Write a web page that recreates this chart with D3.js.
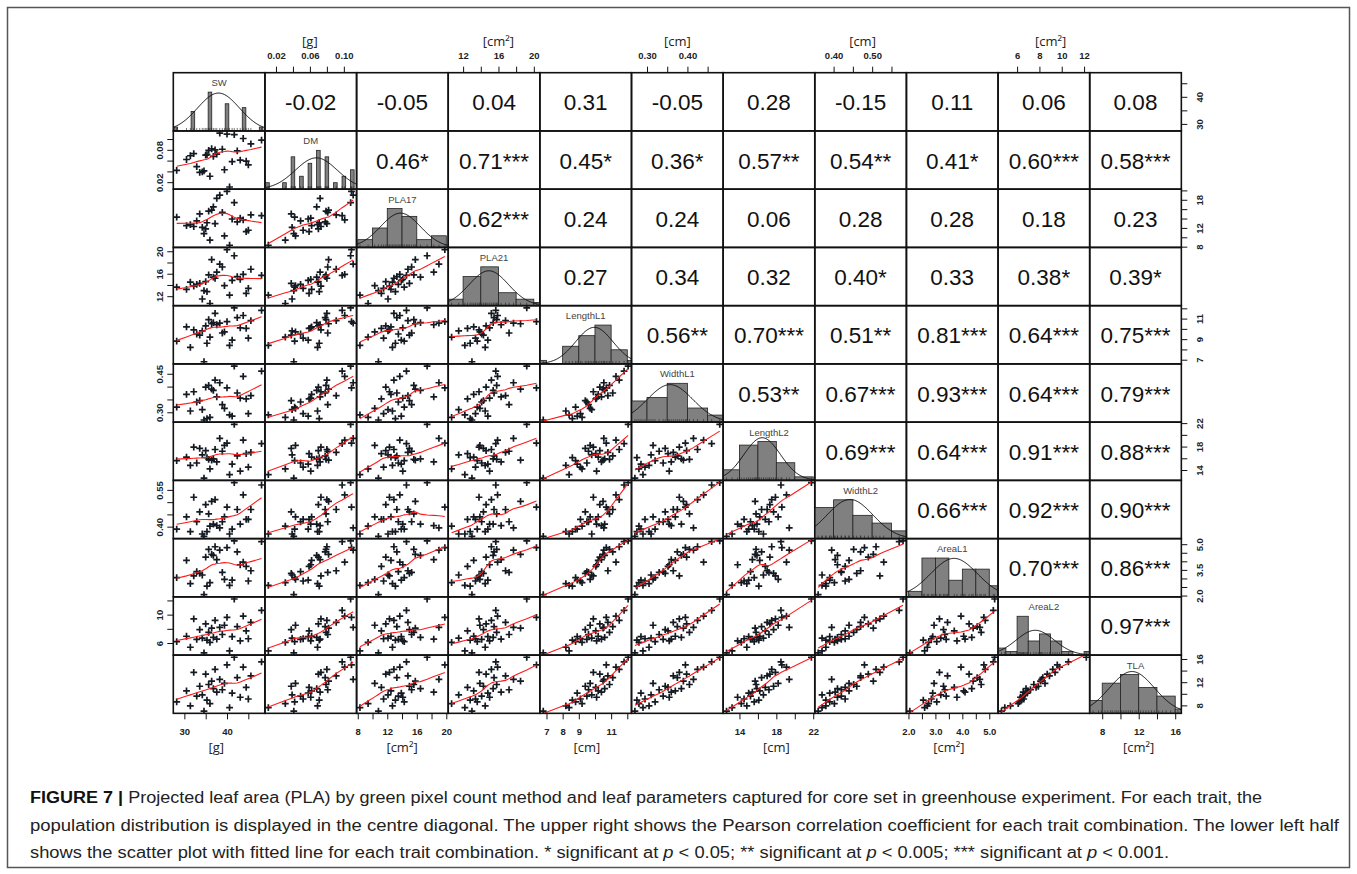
<!DOCTYPE html>
<html>
<head>
<meta charset="utf-8">
<script src="https://cdn.jsdelivr.net/npm/d3@7"></script>
<style>
  body { margin: 0; background: #fff; }
  svg { display: block; }
</style>
</head>
<body>
<svg id="chart" width="1357" height="874"></svg>
<script>
// ---- Trait names and units ----
const traits = ["SW", "DM", "PLA17", "PLA21", "LengthL1", "WidthL1", "LengthL2", "WidthL2", "AreaL1", "AreaL2", "TLA"];
const units = ["[g]", "[g]", "[cm²]", "[cm²]", "[cm]", "[cm]", "[cm]", "[cm]", "[cm²]", "[cm²]", "[cm²]"];

// ---- Per-plant measurements (30 accessions, same order in every array) ----
const sw = [34.6, 40.6, 31.4, 36.0, 28.2, 43.1, 35.3, 32.9, 37.6, 45.0, 34.2, 36.8, 41.2, 30.5, 38.9,
            35.7, 44.5, 33.6, 36.4, 42.4, 39.4, 35.0, 45.6, 37.2, 32.2, 40.0, 43.8, 38.3, 48.1, 41.7];
const dm = [0.041, 0.011, 0.069, 0.031, 0.042, 0.061, 0.071, 0.049, 0.072, 0.052, 0.039, 0.068, 0.058, 0.062, 0.081,
            0.079, 0.059, 0.038, 0.082, 0.078, 0.043, 0.070, 0.091, 0.080, 0.073, 0.109, 0.101, 0.111, 0.098, 0.108];
const pla17 = [10.8, 8.3, 12.7, 9.4, 14.3, 14.1, 13.1, 13.5, 18.3, 11.5, 12.1, 16.5, 13.9, 12.5, 15.3,
               15.6, 11.2, 15.0, 15.8, 13.3, 10.3, 11.8, 14.8, 12.9, 12.3, 19.8, 13.7, 19.0, 14.6, 17.4];
const pla21 = [13.0, 12.2, 14.5, 10.7, 13.6, 15.0, 12.8, 14.1, 16.3, 13.4, 11.5, 15.4, 14.8, 13.2, 17.2,
               15.8, 12.5, 14.3, 18.5, 15.5, 13.9, 14.6, 16.8, 15.2, 13.8, 20.3, 15.9, 17.7, 15.7, 19.2];
const lengthL1 = [6.8, 8.4, 8.2, 9.2, 8.8, 10.1, 8.6, 9.5, 10.4, 9.1, 9.8, 10.6, 8.9, 10.2, 9.6,
                  10.9, 10.05, 9.4, 10.5, 11.1, 9.7, 10.3, 10.8, 11.5, 9.9, 10.7, 11.3, 10.55, 11.8, 12.05];
const widthL1 = [0.27, 0.29, 0.305, 0.28, 0.32, 0.355, 0.275, 0.34, 0.36, 0.295, 0.31, 0.385, 0.285, 0.37, 0.33,
                 0.405, 0.352, 0.345, 0.39, 0.375, 0.315, 0.398, 0.365, 0.425, 0.38, 0.395, 0.44, 0.415, 0.46, 0.48];
const lengthL2 = [12.6, 13.2, 14.8, 14.2, 15.6, 13.8, 16.1, 15.2, 15.4, 14.5, 16.6, 15.9, 15.0, 16.2, 17.2,
                  15.8, 16.8, 17.7, 15.7, 16.4, 18.2, 17.3, 17.0, 17.5, 17.9, 18.6, 19.1, 19.4, 18.5, 21.8];
const widthL2 = [0.36, 0.37, 0.38, 0.402, 0.39, 0.41, 0.38, 0.42, 0.404, 0.43, 0.37, 0.41, 0.39, 0.44, 0.42,
                 0.452, 0.43, 0.46, 0.503, 0.47, 0.44, 0.49, 0.47, 0.51, 0.52, 0.48, 0.53, 0.395, 0.57, 0.58];
const areaL1 = [2.05, 2.6, 2.7, 2.75, 3.05, 3.8, 2.55, 3.4, 4.1, 2.85, 3.2, 4.35, 2.9, 4.05, 3.35,
                4.7, 3.7, 3.3, 4.4, 4.55, 2.95, 4.25, 3.45, 4.85, 3.15, 4.8, 3.95, 4.65, 5.15, 5.2];
const areaL2 = [4.6, 4.9, 5.4, 6.1, 6.2, 6.3, 6.4, 6.5, 6.55, 6.6, 6.7, 6.8, 6.9, 6.95, 7.2,
                7.5, 7.7, 7.9, 8.1, 8.3, 8.5, 8.7, 8.9, 9.2, 9.4, 9.6, 9.8, 8.2, 10.6, 12.2];
const tla = [7.0, 7.6, 7.9, 8.3, 8.6, 9.4, 8.9, 9.6, 10.3, 9.1, 9.8, 10.9, 10.1, 10.5, 10.7,
             11.6, 11.1, 11.3, 12.2, 12.8, 11.8, 13.4, 13.1, 14.2, 13.7, 15.0, 14.6, 12.5, 15.5, 16.3];

const series = [sw, dm, pla17, pla21, lengthL1, widthL1, lengthL2, widthL2, areaL1, areaL2, tla];

// ---- Histogram bins (first break, bin width, number of bins) ----
const binStart = [26, 0.005, 8, 10, 6, 0.25, 12, 0.35, 2.0, 4, 6];
const binWidth = [4, 0.01, 2, 2, 1, 0.05, 2, 0.05, 0.5, 1, 2];
const binCount = [6, 11, 6, 6, 7, 5, 5, 5, 7, 9, 6];
const spikeHist = [true, true, false, false, false, false, false, false, false, false, false];

// ---- Pearson correlations shown in the upper triangle (row trait vs. later traits) ----
const corrLabels = [
  ["-0.02", "-0.05", "0.04", "0.31", "-0.05", "0.28", "-0.15", "0.11", "0.06", "0.08"],
  ["0.46*", "0.71***", "0.45*", "0.36*", "0.57**", "0.54**", "0.41*", "0.60***", "0.58***"],
  ["0.62***", "0.24", "0.24", "0.06", "0.28", "0.28", "0.18", "0.23"],
  ["0.27", "0.34", "0.32", "0.40*", "0.33", "0.38*", "0.39*"],
  ["0.56**", "0.70***", "0.51**", "0.81***", "0.64***", "0.75***"],
  ["0.53**", "0.67***", "0.93***", "0.64***", "0.79***"],
  ["0.69***", "0.64***", "0.91***", "0.88***"],
  ["0.66***", "0.92***", "0.90***"],
  ["0.70***", "0.86***"],
  ["0.97***"]
];

// ---- Axis ticks per trait and the tick labels printed on each side ----
const tickValues = [
  [30, 35, 40, 45],
  [0.02, 0.04, 0.06, 0.08, 0.10],
  [8, 10, 12, 14, 16, 18, 20],
  [12, 14, 16, 18, 20],
  [7, 8, 9, 10, 11, 12],
  [0.30, 0.35, 0.40, 0.45],
  [14, 16, 18, 20, 22],
  [0.40, 0.45, 0.50, 0.55],
  [2.0, 2.5, 3.0, 3.5, 4.0, 4.5, 5.0],
  [6, 8, 10, 12],
  [8, 10, 12, 14, 16]
];
const topLabels    = { 1: ["0.02", "0.06", "0.10"], 3: ["12", "16", "20"], 5: ["0.30", "0.40"], 7: ["0.40", "0.50"], 9: ["6", "8", "10", "12"] };
const bottomLabels = { 0: ["30", "40"], 2: ["8", "12", "16", "20"], 4: ["7", "8", "9", "11"], 6: ["14", "18", "22"], 8: ["2.0", "3.0", "4.0", "5.0"], 10: ["8", "12", "16"] };
const leftLabels   = { 1: ["0.02", "0.08"], 3: ["12", "16", "20"], 5: ["0.30", "0.45"], 7: ["0.40", "0.55"], 9: ["6", "10"] };
const rightLabels  = { 0: ["30", "40"], 2: ["8", "12", "18"], 4: ["7", "9", "11"], 6: ["14", "18", "22"], 8: ["2.0", "3.5", "5.0"], 10: ["8", "12", "16"] };

const captionLines = [
  [["FIGURE 7 | ", true], ["Projected leaf area (PLA) by green pixel count method and leaf parameters captured for core set in greenhouse experiment. For each trait, the", false]],
  [["population distribution is displayed in the centre diagonal. The upper right shows the Pearson correlation coefficient for each trait combination. The lower left half", false]],
  [["shows the scatter plot with fitted line for each trait combination. * significant at ", false], ["p", "i"], [" < 0.05; ** significant at ", false], ["p", "i"], [" < 0.005; *** significant at ", false], ["p", "i"], [" < 0.001.", false]]
];

// ---- Layout ----
const FONT = "'Liberation Sans', Arial, Helvetica, sans-serif";
const X0 = 173.3, Y0 = 72.7, CW = 91.64, CH = 58.24;
const N = traits.length;

const svg = d3.select("#chart");
svg.append("rect").attr("x", 7.5).attr("y", 7.5).attr("width", 1342).attr("height", 860)
  .attr("fill", "none").attr("stroke", "#555").attr("stroke-width", 1.5);

// R-style scale domains: data range widened by 4% on both sides
const xs = series.map(v => {
  const [lo, hi] = d3.extent(v), pad = (hi - lo) * 0.04;
  return d3.scaleLinear().domain([lo - pad, hi + pad]).range([0, CW]);
});
const ys = series.map(v => {
  const [lo, hi] = d3.extent(v), pad = (hi - lo) * 0.04;
  return d3.scaleLinear().domain([lo - pad, hi + pad]).range([CH, 0]);
});

// Locally weighted scatterplot smoothing (Cleveland's lowess, f = 2/3, 3 robustness passes)
function lowess(xIn, yIn, f = 2 / 3, iter = 3) {
  const n = xIn.length;
  const order = d3.range(n).sort((a, b) => xIn[a] - xIn[b]);
  const x = order.map(i => xIn[i]), y = order.map(i => yIn[i]);
  const ns = Math.max(2, Math.min(n, Math.floor(f * n + 1e-7)));
  const span = x[n - 1] - x[0];
  let rw = new Array(n).fill(1);
  const fit = new Array(n).fill(0);
  for (let it = 0; it <= iter; it++) {
    let nleft = 0, nright = ns - 1;
    for (let i = 0; i < n; i++) {
      const xi = x[i];
      while (nright < n - 1 && xi - x[nleft] > x[nright + 1] - xi) { nleft++; nright++; }
      const h = Math.max(xi - x[nleft], x[nright] - xi);
      const h9 = 0.999 * h, h1 = 0.001 * h;
      const w = new Array(n).fill(0);
      let a = 0, nrt = nleft;
      for (let j = nleft; j < n; j++) {
        const r = Math.abs(x[j] - xi);
        if (r <= h9) {
          w[j] = (r <= h1 ? 1 : Math.pow(1 - Math.pow(r / h, 3), 3)) * rw[j];
          a += w[j];
          nrt = j;
        } else if (x[j] > xi) break;
      }
      if (a <= 0) { fit[i] = y[i]; continue; }
      for (let j = nleft; j <= nrt; j++) w[j] /= a;
      if (h > 0) {
        let xm = 0;
        for (let j = nleft; j <= nrt; j++) xm += w[j] * x[j];
        let b = xi - xm, c = 0;
        for (let j = nleft; j <= nrt; j++) c += w[j] * (x[j] - xm) ** 2;
        if (Math.sqrt(c) > 0.001 * span) {
          b /= c;
          for (let j = nleft; j <= nrt; j++) w[j] *= b * (x[j] - xm) + 1;
        }
      }
      let s = 0;
      for (let j = nleft; j <= nrt; j++) s += w[j] * y[j];
      fit[i] = s;
    }
    if (it === iter) break;
    const res = y.map((v, i) => v - fit[i]);
    const cmad = 6 * d3.median(res.map(Math.abs));
    if (cmad < 1e-9) break;
    const c9 = 0.999 * cmad, c1 = 0.001 * cmad;
    rw = res.map(r => {
      const u = Math.abs(r);
      return u <= c1 ? 1 : (u > c9 ? 0 : (1 - (u / cmad) ** 2) ** 2);
    });
  }
  return x.map((v, i) => [v, fit[i]]);
}

const defs = svg.append("defs");
defs.append("clipPath").attr("id", "cellclip")
  .append("rect").attr("x", 0).attr("y", 0).attr("width", CW).attr("height", CH);

const plusPath = "M-3.4,0H3.4M0,-3.4V3.4";

for (let i = 0; i < N; i++) {
  for (let j = 0; j < N; j++) {
    const cell = svg.append("g").attr("transform", `translate(${X0 + j * CW},${Y0 + i * CH})`);
    const inner = cell.append("g").attr("clip-path", "url(#cellclip)");

    if (i === j) {
      // Diagonal: histogram (density scale), normal curve and rug
      const v = series[i];
      const thresholds = d3.range(binCount[i] + 1).map(k => binStart[i] + k * binWidth[i]);
      const bins = d3.bin().domain([thresholds[0], thresholds[thresholds.length - 1]])
        .thresholds(thresholds.slice(1, -1))(v);
      const dens = bins.map(b => b.length / (v.length * binWidth[i]));
      const yH = d3.scaleLinear().domain([0, d3.max(dens) * 1.5]).range([CH, 0]);
      const x = xs[i];
      inner.selectAll("rect.bar").data(bins).join("rect")
        .attr("class", "bar")
        .attr("x", (b) => spikeHist[i] ? x((b.x0 + b.x1) / 2) - 1.8 : x(b.x0))
        .attr("width", (b) => spikeHist[i] ? 3.6 : x(b.x1) - x(b.x0))
        .attr("y", (b, k) => yH(dens[k]))
        .attr("height", (b, k) => CH - yH(dens[k]))
        .attr("fill", "#808080").attr("stroke", "#222").attr("stroke-width", 0.8);
      const mean = d3.mean(v), sd = d3.deviation(v);
      const [d0, d1] = x.domain();
      const curve = d3.range(121).map(k => {
        const t = d0 + (d1 - d0) * k / 120;
        return [t, Math.exp(-((t - mean) ** 2) / (2 * sd * sd)) / (sd * Math.sqrt(2 * Math.PI))];
      });
      inner.append("path").datum(curve)
        .attr("d", d3.line().x(d => x(d[0])).y(d => yH(d[1])).curve(d3.curveBasis))
        .attr("fill", "none").attr("stroke", "#111").attr("stroke-width", 1);
      inner.selectAll("line.rug").data(v).join("line")
        .attr("class", "rug")
        .attr("x1", d => x(d)).attr("x2", d => x(d))
        .attr("y1", CH).attr("y2", CH - 3)
        .attr("stroke", "#222").attr("stroke-width", 0.6);
      cell.append("text").attr("x", CW / 2).attr("y", 13.5)
        .attr("text-anchor", "middle").attr("font-family", FONT).attr("font-size", 9.5)
        .attr("fill", "#444").text(traits[i]);
    } else if (i > j) {
      // Lower triangle: scatter with lowess smooth
      const xv = series[j], yv = series[i];
      const pts = xv.map((d, k) => [d, yv[k]]);
      inner.selectAll("path.pt").data(pts).join("path")
        .attr("class", "pt")
        .attr("transform", d => `translate(${xs[j](d[0])},${ys[i](d[1])})`)
        .attr("d", plusPath)
        .attr("stroke", "#141a22").attr("stroke-width", 1.7);
      const sm = lowess(xv, yv);
      inner.append("path").datum(sm)
        .attr("d", d3.line().x(d => xs[j](d[0])).y(d => ys[i](d[1])))
        .attr("fill", "none").attr("stroke", "#ff1a1a").attr("stroke-width", 1.1);
    } else {
      // Upper triangle: correlation coefficient with significance stars
      cell.append("text").attr("x", CW / 2).attr("y", CH / 2 + 1)
        .attr("text-anchor", "middle").attr("dominant-baseline", "central")
        .attr("font-family", FONT).attr("font-size", 22.5).attr("fill", "#111")
        .text(corrLabels[i][j - i - 1]);
    }

    cell.append("rect").attr("width", CW).attr("height", CH)
      .attr("fill", "none").attr("stroke", "#111").attr("stroke-width", 1.6);
  }
}

// ---- Marginal axes ----
function styleAxis(g) {
  g.select(".domain").remove();
  g.selectAll(".tick line").attr("stroke", "#111").attr("stroke-width", 1);
  g.selectAll(".tick text").attr("font-family", FONT).attr("font-size", 9.5)
    .attr("font-weight", "bold").attr("fill", "#222");
}
const fmt = labels => v => {
  const hit = labels.find(l => Math.abs(+l - v) < 1e-9);
  return hit === undefined ? "" : hit;
};
function unitText(x, y, txt) {
  svg.append("text").attr("x", x).attr("y", y).attr("text-anchor", "middle")
    .attr("font-family", "'Open Sans', " + FONT).attr("font-size", 13).attr("fill", "#222").text(txt);
}

Object.keys(topLabels).forEach(k => {
  const j = +k;
  const g = svg.append("g").attr("transform", `translate(${X0 + j * CW},${Y0})`)
    .call(d3.axisTop(xs[j]).tickValues(tickValues[j]).tickSize(6).tickPadding(8).tickFormat(fmt(topLabels[k])));
  styleAxis(g);
  const t = tickValues[j];
  unitText(X0 + j * CW + (xs[j](t[0]) + xs[j](t[t.length - 1])) / 2, 45.5, units[j]);
});
Object.keys(bottomLabels).forEach(k => {
  const j = +k;
  const g = svg.append("g").attr("transform", `translate(${X0 + j * CW},${Y0 + N * CH})`)
    .call(d3.axisBottom(xs[j]).tickValues(tickValues[j]).tickSize(6).tickPadding(9).tickFormat(fmt(bottomLabels[k])));
  styleAxis(g);
  const t = tickValues[j];
  unitText(X0 + j * CW + (xs[j](t[0]) + xs[j](t[t.length - 1])) / 2, 751.5, units[j]);
});
Object.keys(leftLabels).forEach(k => {
  const i = +k;
  const g = svg.append("g").attr("transform", `translate(${X0},${Y0 + i * CH})`)
    .call(d3.axisLeft(ys[i]).tickValues(tickValues[i]).tickSize(6).tickFormat(fmt(leftLabels[k])));
  styleAxis(g);
  g.selectAll(".tick text").attr("x", null).attr("dy", null)
    .attr("text-anchor", "middle").attr("transform", "translate(-10,0) rotate(-90)");
});
Object.keys(rightLabels).forEach(k => {
  const i = +k;
  const g = svg.append("g").attr("transform", `translate(${X0 + N * CW},${Y0 + i * CH})`)
    .call(d3.axisRight(ys[i]).tickValues(tickValues[i]).tickSize(6).tickFormat(fmt(rightLabels[k])));
  styleAxis(g);
  g.selectAll(".tick text").attr("x", null).attr("dy", null)
    .attr("text-anchor", "middle").attr("transform", "translate(22,0) rotate(-90)");
});

// ---- Caption ----
const captionX = 30, captionY = [803, 831, 858], captionW = [1232, 1309, 1139];
captionLines.forEach((parts, li) => {
  const t = svg.append("text").attr("x", captionX).attr("y", captionY[li])
    .attr("font-family", FONT).attr("font-size", 16).attr("fill", "#222");
  parts.forEach(([s, style]) => {
    const sp = t.append("tspan").text(s);
    if (style === true) sp.attr("font-weight", "bold").attr("fill", "#111");
    if (style === "i") sp.attr("font-style", "italic");
  });
  t.attr("textLength", captionW[li]).attr("lengthAdjust", "spacingAndGlyphs");
});
</script>
</body>
</html>
